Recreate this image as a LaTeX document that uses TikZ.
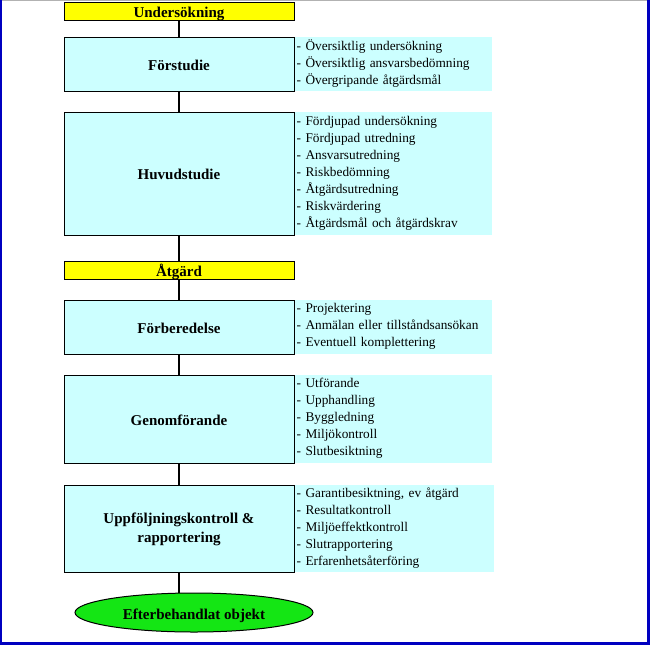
\documentclass[tikz,border=0pt]{standalone}
\usepackage{fontspec}
\setmainfont{Liberation Serif}
\usetikzlibrary{shapes.geometric}
\definecolor{boxcyan}{RGB}{204,255,255}
\definecolor{boxyellow}{RGB}{255,255,0}
\definecolor{boxgreen}{RGB}{20,230,20}
\definecolor{framblue}{RGB}{0,0,192}
\tikzset{
  stagebox/.style={draw=black, line width=1pt, fill=boxcyan, minimum width=230pt, inner sep=0pt, align=center, font=\fontsize{15}{19}\selectfont\bfseries},
  oneline/.style={text height=13.5pt, text depth=1.5pt},
  phasebox/.style={stagebox, oneline, fill=boxyellow, minimum height=18pt},
  listbox/.style={fill=boxcyan, anchor=north west, text width=193pt, inner xsep=2pt, inner ysep=0pt, align=left, font=\fontsize{13.3}{17}\selectfont},
  conn/.style={line width=2.5pt, black}
}
\begin{document}
\begin{tikzpicture}[x=1pt,y=-1pt]
\useasboundingbox (0,0) rectangle (650,645);
\fill[white] (0,0) rectangle (650,645);
\draw[gray!60, line width=1pt] (0,0.5) -- (650,0.5);
\fill[framblue] (0,0) rectangle (1.5,645);
\fill[framblue] (647,0) rectangle (650,645);
\fill[framblue] (0,642) rectangle (650,645);

\node[phasebox] (und) at (179,11) {Undersökning};
\node[stagebox, oneline, minimum height=54pt] (fst) at (179,64) {Förstudie};
\node[stagebox, oneline, minimum height=123pt] (huv) at (179,173.5) {Huvudstudie};
\node[phasebox] (atg) at (179,270) {Åtgärd};
\node[stagebox, oneline, minimum height=54pt] (fbr) at (179,327) {Förberedelse};
\node[stagebox, oneline, minimum height=88pt] (gen) at (179,419) {Genomförande};
\node[stagebox, minimum height=87pt] (upp) at (179,528.5) {\rule{0pt}{13pt}Uppföljningskontroll \&\\rapportering};
\node[ellipse, draw=black, line width=1pt, fill=boxgreen, minimum width=238pt, minimum height=39pt, inner sep=0pt, text height=15pt, text depth=1.5pt, font=\fontsize{15}{19}\selectfont\bfseries] (eff) at (194,612.5) {Efterbehandlat objekt};

\node[listbox, minimum height=54pt] (l1) at (fst.north east) {- Översiktlig undersökning\\- Översiktlig ansvarsbedömning\\- Övergripande åtgärdsmål};
\node[listbox, minimum height=123pt] (l2) at (huv.north east) {- Fördjupad undersökning\\- Fördjupad utredning\\- Ansvarsutredning\\- Riskbedömning\\- Åtgärdsutredning\\- Riskvärdering\\- Åtgärdsmål och åtgärdskrav};
\node[listbox, minimum height=54pt] (l3) at (fbr.north east) {- Projektering\\- Anmälan eller tillståndsansökan\\- Eventuell komplettering};
\node[listbox, minimum height=88pt] (l4) at (gen.north east) {- Utförande\\- Upphandling\\- Byggledning\\- Miljökontroll\\- Slutbesiktning};
\node[listbox, minimum height=87pt, text width=195pt] (l5) at (upp.north east) {- Garantibesiktning, ev åtgärd\\- Resultatkontroll\\- Miljöeffektkontroll\\- Slutrapportering\\- Erfarenhetsåterföring};

\draw[conn] (und.south) -- (fst.north);
\draw[conn] (fst.south) -- (huv.north);
\draw[conn] (huv.south) -- (atg.north);
\draw[conn] (atg.south) -- (fbr.north);
\draw[conn] (fbr.south) -- (gen.north);
\draw[conn] (gen.south) -- (upp.north);
\draw[conn] (upp.south) -- (upp.south |- eff.north);
\end{tikzpicture}
\end{document}
